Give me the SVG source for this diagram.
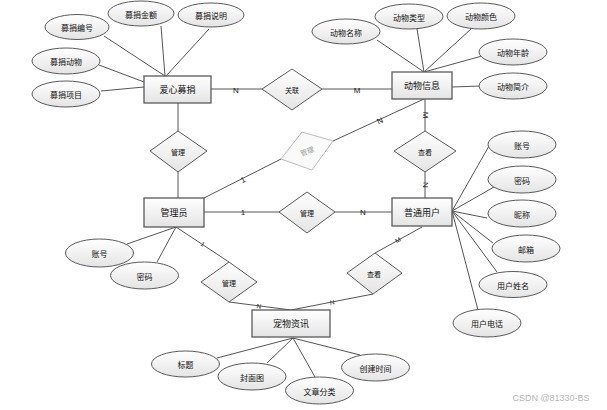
<svg xmlns="http://www.w3.org/2000/svg" width="607" height="410" viewBox="0 0 607 410">
<defs>
<linearGradient id="g" x1="0" y1="0" x2="0" y2="1">
<stop offset="0" stop-color="#ffffff"/>
<stop offset="1" stop-color="#e4e4e4"/>
</linearGradient>
<style>
.ent{fill:url(#g);stroke:#5a5a5a;stroke-width:1.3}
.att{fill:url(#g);stroke:#5a5a5a;stroke-width:1}
.rel{fill:url(#g);stroke:#5a5a5a;stroke-width:1}
.ln{stroke:#555;stroke-width:1;fill:none}
text{font-family:"Noto Sans CJK SC","Liberation Sans",sans-serif;fill:#111;text-anchor:middle;dominant-baseline:central}
.te{font-size:9px}
.ta{font-size:8px}
.tr{font-size:7px}
.lb{font-family:"Liberation Sans",sans-serif;font-size:8px;fill:#222}
.lbs{font-family:"Liberation Sans",sans-serif;font-size:6.5px;fill:#222}
</style>
</defs>
<rect width="607" height="410" fill="#fff"/>
<g id="connectors">
<line class="ln" x1="104" y1="36" x2="165" y2="76"/>
<line class="ln" x1="161" y1="26" x2="165" y2="76"/>
<line class="ln" x1="209" y1="29" x2="166" y2="76"/>
<line class="ln" x1="99" y1="65" x2="144" y2="82"/>
<line class="ln" x1="101" y1="91" x2="144" y2="87"/>
<line class="ln" x1="377" y1="40" x2="424" y2="72"/>
<line class="ln" x1="417" y1="29" x2="424" y2="72"/>
<line class="ln" x1="471" y1="29" x2="424" y2="72"/>
<line class="ln" x1="482" y1="56" x2="424" y2="72"/>
<line class="ln" x1="480" y1="86" x2="452" y2="87"/>
<line class="ln" x1="452" y1="211" x2="489" y2="146"/>
<line class="ln" x1="452" y1="211" x2="494" y2="187"/>
<line class="ln" x1="452" y1="211" x2="487" y2="218"/>
<line class="ln" x1="452" y1="211" x2="493" y2="243"/>
<line class="ln" x1="452" y1="211" x2="497" y2="272"/>
<line class="ln" x1="452" y1="211" x2="478" y2="310"/>
<line class="ln" x1="176" y1="227" x2="127" y2="244"/>
<line class="ln" x1="176" y1="227" x2="157" y2="262"/>
<line class="ln" x1="293" y1="338" x2="217" y2="358"/>
<line class="ln" x1="293" y1="338" x2="267" y2="363"/>
<line class="ln" x1="293" y1="338" x2="315" y2="377"/>
<line class="ln" x1="293" y1="338" x2="360" y2="355"/>
<line class="ln" x1="211" y1="89" x2="262" y2="89"/>
<line class="ln" x1="322" y1="89" x2="392" y2="89"/>
<line class="ln" x1="178" y1="103" x2="178" y2="131"/>
<line class="ln" x1="178" y1="172" x2="178" y2="198"/>
<line class="ln" x1="204" y1="198" x2="281" y2="159"/>
<line class="ln" x1="333" y1="141" x2="424" y2="99"/>
<line class="ln" x1="425" y1="99" x2="425" y2="131"/>
<line class="ln" x1="425" y1="172" x2="425" y2="198"/>
<line class="ln" x1="204" y1="212" x2="279" y2="212"/>
<line class="ln" x1="335" y1="212" x2="392" y2="212"/>
<line class="ln" x1="176" y1="227" x2="229" y2="262"/>
<line class="ln" x1="229" y1="302" x2="291" y2="310"/>
<line class="ln" x1="373" y1="294" x2="291" y2="310"/>
<line class="ln" x1="422" y1="227" x2="375" y2="253"/>
<text class="lb" x="236" y="90">N</text>
<text class="lb" x="357" y="90">M</text>
<text class="lb" x="243" y="180" transform="rotate(-27 243 180)">1</text>
<text class="lb" x="380" y="121" transform="rotate(-25 380 121)">N</text>
<text class="lb" x="425" y="115" transform="rotate(90 425 115)">M</text>
<text class="lb" x="425" y="185" transform="rotate(90 425 185)">N</text>
<text class="lb" x="243" y="212">1</text>
<text class="lb" x="363" y="212">N</text>
<text class="lbs" x="203" y="244" transform="rotate(33 203 244)">1</text>
<text class="lbs" x="259" y="306" transform="rotate(7 259 306)">N</text>
<text class="lbs" x="332" y="302" transform="rotate(-11 332 302)">N</text>
<text class="lbs" x="398" y="240" transform="rotate(-29 398 240)">M</text>
</g>
<g id="e-aixin"><rect class="ent" x="144" y="76" width="67" height="27"/><text class="te" x="177.5" y="89.5">爱心募捐</text></g>
<g id="e-dongwu"><rect class="ent" x="392" y="72" width="60" height="27"/><text class="te" x="422" y="85.5">动物信息</text></g>
<g id="e-admin"><rect class="ent" x="144" y="198" width="60" height="29"/><text class="te" x="174" y="212.5">管理员</text></g>
<g id="e-user"><rect class="ent" x="392" y="198" width="60" height="28"/><text class="te" x="422" y="212">普通用户</text></g>
<g id="e-news"><rect class="ent" x="252" y="310" width="78" height="27"/><text class="te" x="291" y="323.5">宠物资讯</text></g>
<g id="r-guanlian"><polygon class="rel" points="292,69 322,89 292,110 262,89"/><text class="tr" x="292" y="89.5">关联</text></g>
<g id="r-guanli1"><polygon class="rel" points="178,131 207,151 178,172 150,151"/><text class="tr" x="178" y="151.5">管理</text></g>
<g id="r-guanli-gray"><polygon fill="#fafafa" stroke="#bdbdbd" stroke-width="1" points="302,132 333,141 312,170 281,159"/><text class="tr" x="307" y="151" fill="#999" style="fill:#999" transform="rotate(-20 307 151)">管理</text></g>
<g id="r-guanli2"><polygon class="rel" points="307,192 335,212 307,233 279,212"/><text class="tr" x="307" y="212.5">管理</text></g>
<g id="r-chakan1"><polygon class="rel" points="425,131 456,151 425,172 394,151"/><text class="tr" x="425" y="151.5">查看</text></g>
<g id="r-guanli3"><polygon class="rel" points="229,262 257,282 229,302 201,282"/><text class="tr" x="229" y="282.5">管理</text></g>
<g id="r-chakan2"><polygon class="rel" points="375,253 402,273 373,294 347,273"/><text class="tr" x="374" y="273.5">查看</text></g>
<g id="a-jbh"><ellipse class="att" cx="77" cy="27" rx="32" ry="12.5"/><text class="ta" x="77" y="27.5">募捐编号</text></g>
<g id="a-jje"><ellipse class="att" cx="141" cy="13.5" rx="33" ry="12.5"/><text class="ta" x="141" y="14">募捐金额</text></g>
<g id="a-jsm"><ellipse class="att" cx="211" cy="15" rx="33" ry="12"/><text class="ta" x="211" y="15.5">募捐说明</text></g>
<g id="a-jdw"><ellipse class="att" cx="66" cy="61" rx="34" ry="13"/><text class="ta" x="66" y="61.5">募捐动物</text></g>
<g id="a-jxm"><ellipse class="att" cx="66" cy="94" rx="34" ry="13"/><text class="ta" x="66" y="94.5">募捐项目</text></g>
<g id="a-dmc"><ellipse class="att" cx="346" cy="31.5" rx="34" ry="12.5"/><text class="ta" x="346" y="32">动物名称</text></g>
<g id="a-dlx"><ellipse class="att" cx="409" cy="16.5" rx="34" ry="12.5"/><text class="ta" x="409" y="17">动物类型</text></g>
<g id="a-dys"><ellipse class="att" cx="481" cy="16" rx="34" ry="13"/><text class="ta" x="481" y="16.5">动物颜色</text></g>
<g id="a-dnl"><ellipse class="att" cx="513" cy="52" rx="34" ry="13"/><text class="ta" x="513" y="52.5">动物年龄</text></g>
<g id="a-djj"><ellipse class="att" cx="513" cy="86" rx="34" ry="13"/><text class="ta" x="513" y="86.5">动物简介</text></g>
<g id="a-uzh"><ellipse class="att" cx="522" cy="144.5" rx="34" ry="13.5"/><text class="ta" x="522" y="145">账号</text></g>
<g id="a-umm"><ellipse class="att" cx="522" cy="179.5" rx="34" ry="13.5"/><text class="ta" x="522" y="180">密码</text></g>
<g id="a-unc"><ellipse class="att" cx="522" cy="213.5" rx="34" ry="13.5"/><text class="ta" x="522" y="214">昵称</text></g>
<g id="a-uyx"><ellipse class="att" cx="526" cy="248.5" rx="34" ry="13.5"/><text class="ta" x="526" y="249">邮箱</text></g>
<g id="a-uxm"><ellipse class="att" cx="513" cy="284.5" rx="34" ry="13"/><text class="ta" x="513" y="285">用户姓名</text></g>
<g id="a-udh"><ellipse class="att" cx="487" cy="323" rx="34" ry="14"/><text class="ta" x="487" y="323.5">用户电话</text></g>
<g id="a-azh"><ellipse class="att" cx="99.5" cy="253" rx="34" ry="14"/><text class="ta" x="99.5" y="253.5">账号</text></g>
<g id="a-amm"><ellipse class="att" cx="144.5" cy="275.5" rx="34" ry="13.5"/><text class="ta" x="144.5" y="276">密码</text></g>
<g id="a-nbt"><ellipse class="att" cx="185.5" cy="364" rx="34" ry="13"/><text class="ta" x="185.5" y="364.5">标题</text></g>
<g id="a-nfm"><ellipse class="att" cx="252" cy="376.5" rx="34" ry="13.5"/><text class="ta" x="252" y="377">封面图</text></g>
<g id="a-nfl"><ellipse class="att" cx="319.5" cy="390.5" rx="34" ry="13.5"/><text class="ta" x="319.5" y="391">文章分类</text></g>
<g id="a-nsj"><ellipse class="att" cx="375.5" cy="367.5" rx="34" ry="13.5"/><text class="ta" x="375.5" y="368">创建时间</text></g>
<text x="551" y="398" style="font-family:'Liberation Sans',sans-serif;font-size:9px;fill:#b5b5b5">CSDN @81330-BS</text>
</svg>
